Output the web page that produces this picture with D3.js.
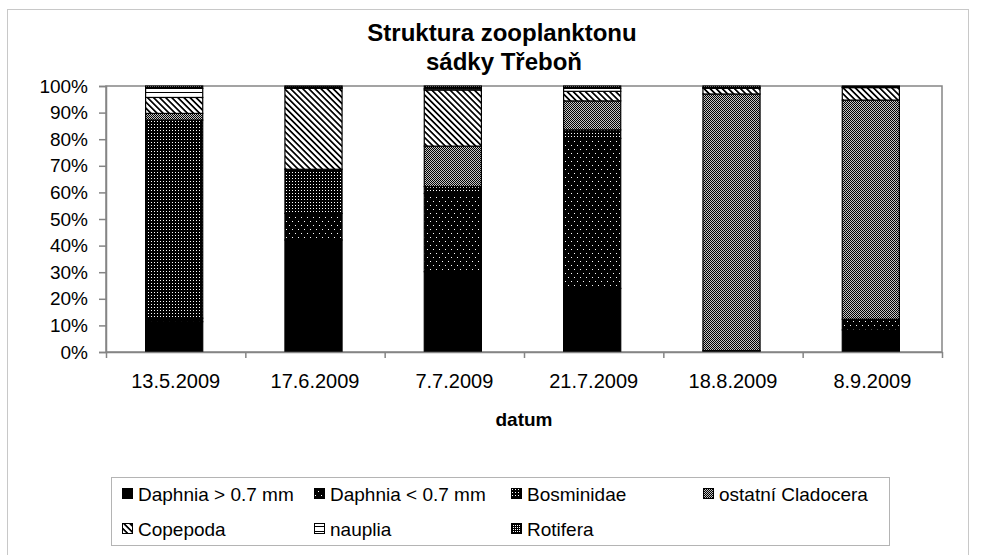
<!DOCTYPE html>
<html>
<head>
<meta charset="utf-8">
<script src="https://cdn.jsdelivr.net/npm/d3@7/dist/d3.min.js"></script>
<style>
	body { margin: 0; background: #fff; }
	svg { font-family: "Liberation Sans", Arial, sans-serif; display: block; }
	.axis text { font-size: 19px; fill: #000; }
	.axis.x text { font-size: 20px; }
	.axis path, .axis line { stroke: #858585; stroke-width: 1.5; }
	pattern rect { shape-rendering: crispEdges; }
</style>
</head>
<body>
<div id="chart"></div>
<script>
///////////////////////////////////////////////////////////////////////////////
//// Data /////////////////////////////////////////////////////////////////////
///////////////////////////////////////////////////////////////////////////////
const dates = ["13.5.2009", "17.6.2009", "7.7.2009", "21.7.2009", "18.8.2009", "8.9.2009"];

const groups = ["Daphnia > 0.7 mm", "Daphnia < 0.7 mm", "Bosminidae", "ostatní Cladocera",
	"Copepoda", "nauplia", "Rotifera"];

// shares in % for each date
const daphniaLarge = [11.4, 42.1, 30.2, 23.9, 0.5, 8.3];
const daphniaSmall = [1.3, 10.0, 29.4, 56.4, 0.0, 4.0];
const bosminidae   = [74.5, 16.6, 2.6, 3.2, 0.0, 0.0];
const ostatni      = [2.5, 0.0, 15.2, 10.9, 96.5, 82.4];
const copepoda     = [6.0, 30.4, 21.1, 3.6, 2.1, 4.7];
const nauplia      = [3.4, 0.4, 0.5, 1.1, 0.3, 0.2];
const rotifera     = [0.9, 0.5, 1.0, 0.9, 0.6, 0.4];

const yTicks = [0, 10, 20, 30, 40, 50, 60, 70, 80, 90, 100];

const series = [daphniaLarge, daphniaSmall, bosminidae, ostatni, copepoda, nauplia, rotifera];
const table = dates.map((d, i) => {
	const row = {date: d};
	groups.forEach((g, j) => row[g] = series[j][i]);
	return row;
});

///////////////////////////////////////////////////////////////////////////////
//// Set Up ///////////////////////////////////////////////////////////////////
///////////////////////////////////////////////////////////////////////////////
const W = 981, H = 555;
const plot = {left: 106, top: 86, right: 942, bottom: 352};

const svg = d3.select("#chart")
	.append("svg")
		.attr("width", W)
		.attr("height", H);

// outer chart border
svg.append("rect")
	.attr("x", 7.5).attr("y", 9.5)
	.attr("width", 961).attr("height", 560)
	.attr("fill", "none")
	.attr("stroke", "#c8c8c8");

///////////////////////////////////////////////////////////////////////////////
// Fill patterns (black and white Excel style)
const defs = svg.append("defs");

function pattern(id, w, h, bg) {
	const p = defs.append("pattern")
		.attr("id", id)
		.attr("patternUnits", "userSpaceOnUse")
		.attr("width", w)
		.attr("height", h);
	p.append("rect").attr("width", w).attr("height", h).attr("fill", bg);
	return p;
}

function dots(p, pts, color) {
	pts.forEach(([x, y]) => p.append("rect")
		.attr("x", x).attr("y", y).attr("width", 1).attr("height", 1).attr("fill", color));
}

pattern("p0", 4, 4, "#000");
dots(pattern("p1", 6, 8, "#000"), [[1, 1], [4, 5]], "#fff");
dots(pattern("p2", 3, 3, "#000"), [[1, 1]], "#fff");
dots(pattern("p3", 2, 2, "#c4c4c4"), [[0, 0], [1, 1]], "#000");
pattern("p4", 4.3, 4.3, "#fff")
	.attr("patternTransform", "rotate(-45)")
	.append("rect").attr("width", 1.8).attr("height", 4.3).attr("fill", "#000");
pattern("p5", 5, 5, "#fff")
	.append("rect").attr("y", 2).attr("width", 5).attr("height", 1).attr("fill", "#000");
dots(pattern("p6", 2, 2, "#000"), [[0, 0]], "#fff");

const fillOf = d3.scaleOrdinal()
	.domain(groups)
	.range(groups.map((g, i) => `url(#p${i})`));

///////////////////////////////////////////////////////////////////////////////
// Scales

const x = d3.scaleBand()
	.domain(dates)
	.range([plot.left, plot.right])
	.paddingInner(0.59)
	.paddingOuter(0.295);

const xEdge = d3.scaleLinear()
	.domain([0, dates.length])
	.range([plot.left, plot.right]);

const y = d3.scaleLinear()
	.domain([0, 100])
	.range([plot.bottom, plot.top]);

///////////////////////////////////////////////////////////////////////////////
//// Plot /////////////////////////////////////////////////////////////////////
///////////////////////////////////////////////////////////////////////////////

// plot area frame (top and right)
svg.append("rect")
	.attr("x", plot.left).attr("y", plot.top)
	.attr("width", plot.right - plot.left).attr("height", plot.bottom - plot.top)
	.attr("fill", "none")
	.attr("stroke", "#858585")
	.attr("stroke-width", 1.5);

const stack = d3.stack().keys(groups)(table);

svg.append("g")
	.selectAll("g")
	.data(stack)
	.join("g")
		.attr("fill", d => fillOf(d.key))
	.selectAll("rect")
	.data(d => d)
	.join("rect")
		.attr("x", d => x(d.data.date) - 1.5)
		.attr("y", d => y(d[1]))
		.attr("width", x.bandwidth())
		.attr("height", d => y(d[0]) - y(d[1]))
		.attr("stroke", "#000")
		.attr("stroke-width", 1.2);

///////////////////////////////////////////////////////////////////////////////
// Axes
svg.append("g")
	.attr("class", "axis")
	.attr("transform", `translate(${plot.left}, 0)`)
	.call(d3.axisLeft(y).tickValues(yTicks).tickFormat(d => d + "%").tickSize(7).tickPadding(11));

svg.append("g")
	.attr("class", "axis")
	.attr("transform", `translate(0, ${plot.bottom})`)
	.call(d3.axisBottom(xEdge).tickValues(d3.range(dates.length + 1)).tickFormat("").tickSize(6).tickSizeOuter(0));

svg.append("g")
	.attr("class", "axis x")
	.attr("transform", `translate(0, ${plot.bottom})`)
	.call(d3.axisBottom(x).tickSize(0).tickPadding(22))
	.call(g => g.select(".domain").remove());

///////////////////////////////////////////////////////////////////////////////
// Titles
svg.append("text")
	.attr("x", 502).attr("y", 41)
	.attr("text-anchor", "middle")
	.attr("font-size", 24).attr("font-weight", "bold")
	.text("Struktura zooplanktonu");

svg.append("text")
	.attr("x", 504).attr("y", 70)
	.attr("text-anchor", "middle")
	.attr("font-size", 24).attr("font-weight", "bold")
	.text("sádky Třeboň");

svg.append("text")
	.attr("x", (plot.left + plot.right) / 2).attr("y", 426)
	.attr("text-anchor", "middle")
	.attr("font-size", 19).attr("font-weight", "bold")
	.text("datum");

///////////////////////////////////////////////////////////////////////////////
//// Legend ///////////////////////////////////////////////////////////////////
///////////////////////////////////////////////////////////////////////////////
const legendCols = [122, 314, 511, 703];
const legendRows = [494, 529];

svg.append("rect")
	.attr("x", 111.5).attr("y", 477.5)
	.attr("width", 778).attr("height", 68)
	.attr("fill", "none")
	.attr("stroke", "#b4b4b4");

const legend = svg.selectAll(".legend")
	.data(groups)
	.join("g")
		.attr("class", "legend")
		.attr("transform", (d, i) => `translate(${legendCols[i % 4]}, ${legendRows[Math.floor(i / 4)]})`);

legend.append("rect")
	.attr("x", 0.5).attr("y", -5.5)
	.attr("width", 10).attr("height", 10)
	.attr("fill", fillOf)
	.attr("stroke", "#000");

legend.append("text")
	.attr("x", 16)
	.attr("dy", "0.35em")
	.attr("font-size", 19)
	.text(d => d);
</script>
</body>
</html>
